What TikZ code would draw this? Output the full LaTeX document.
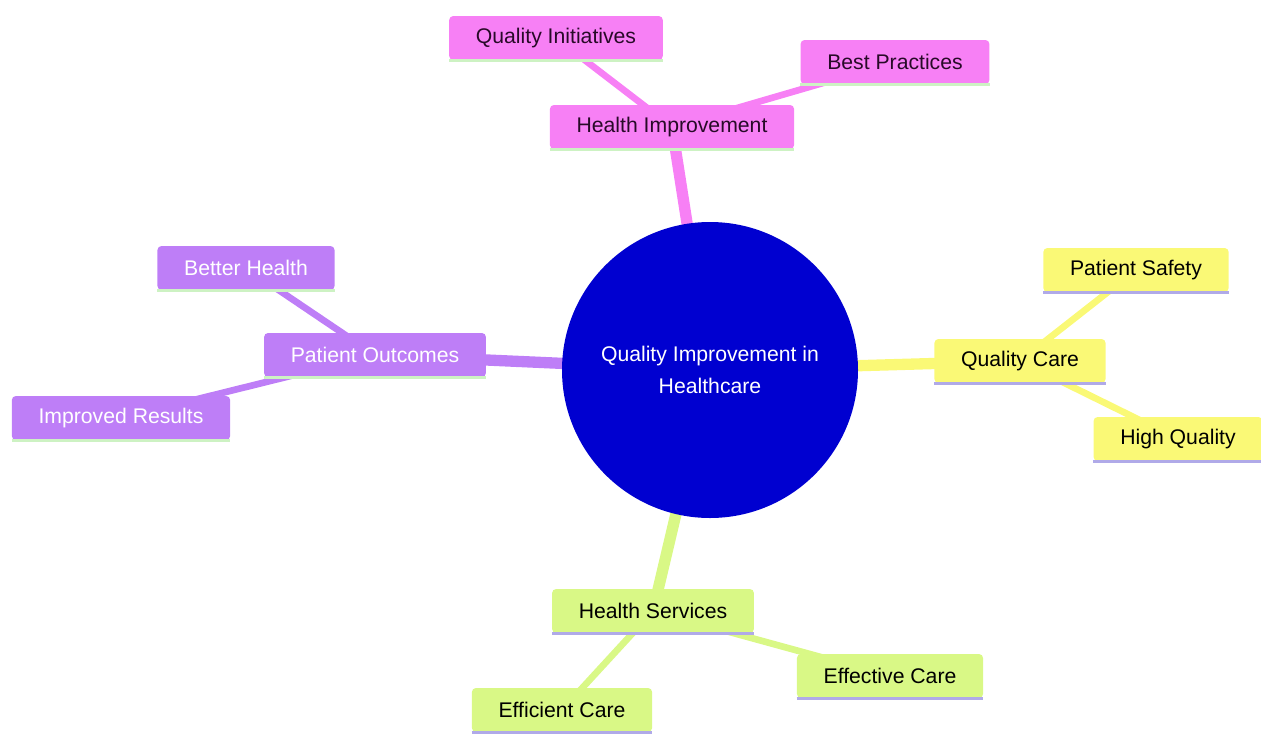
\documentclass[tikz,border=0pt]{standalone}
\usepackage{fontspec}
\setmainfont{Liberation Sans}
\usetikzlibrary{backgrounds}

\definecolor{rootblue}{RGB}{0,0,208}
\definecolor{pinksec}{RGB}{247,128,245}
\definecolor{purplesec}{RGB}{190,126,247}
\definecolor{yellowsec}{RGB}{250,249,118}
\definecolor{greensec}{RGB}{217,248,134}
\definecolor{greenline}{RGB}{205,242,195}
\definecolor{lavline}{RGB}{176,170,232}
\definecolor{darkpink}{RGB}{40,10,40}

\tikzset{
  mnode/.style={rectangle, rounded corners=3pt, minimum height=33pt, inner xsep=20pt, inner ysep=0pt, font=\fontsize{15.9}{19}\selectfont},
  rootnode/.style={circle, fill=rootblue, text=white, minimum size=222pt, inner sep=0pt, align=center, font=\fontsize{15.9}{24}\selectfont},
  edge/.style={line width=5pt},
  mainedge/.style={line width=8.5pt},
  uline/.style={line width=2.2pt}
}

\begin{document}
\begin{tikzpicture}[x=0.75pt,y=0.75pt,yscale=-1,xscale=1]
  \useasboundingbox (0,0) rectangle (1261,736);

  % root
  \node[rootnode] (root) at (710,370) {Quality Improvement in\\Healthcare};

  % pink branch
  \node[mnode, fill=pinksec, text=darkpink] (hi) at (672,127) {Health Improvement};
  \node[mnode, fill=pinksec, text=darkpink] (qi) at (556,38) {Quality Initiatives};
  \node[mnode, fill=pinksec, text=darkpink] (bp) at (895,62) {Best Practices};

  % yellow branch
  \node[mnode, fill=yellowsec] (qc) at (1020,361) {Quality Care};
  \node[mnode, fill=yellowsec] (ps) at (1136,270) {Patient Safety};
  \node[mnode, fill=yellowsec] (hq) at (1178,439) {High Quality};

  % purple branch
  \node[mnode, fill=purplesec, text=white] (po) at (375,355) {Patient Outcomes};
  \node[mnode, fill=purplesec, text=white] (bh) at (246,268) {Better Health};
  \node[mnode, fill=purplesec, text=white] (ir) at (121,418) {Improved Results};

  % green branch
  \node[mnode, fill=greensec] (hs) at (653,611) {Health Services};
  \node[mnode, fill=greensec] (ec) at (890,676) {Effective Care};
  \node[mnode, fill=greensec] (fc) at (562,710) {Efficient Care};

  % underlines
  \foreach \n/\c in {hi/greenline, qi/greenline, bp/greenline, po/greenline, bh/greenline, ir/greenline,
                     qc/lavline, ps/lavline, hq/lavline, hs/lavline, ec/lavline, fc/lavline}
    \draw[uline, \c] (\n.south west) -- (\n.south east);

  % edges
  \begin{pgfonlayer}{background}
    \draw[mainedge, pinksec] (root.center) -- (hi.center);
    \draw[edge, pinksec] (hi.center) -- (qi.center);
    \draw[edge, pinksec] (hi.center) -- (bp.center);
    \draw[mainedge, yellowsec] (root.center) -- (qc.center);
    \draw[edge, yellowsec] (qc.center) -- (ps.center);
    \draw[edge, yellowsec] (qc.center) -- (hq.center);
    \draw[mainedge, purplesec] (root.center) -- (po.center);
    \draw[edge, purplesec] (po.center) -- (bh.center);
    \draw[edge, purplesec] (po.center) -- (ir.center);
    \draw[mainedge, greensec] (root.center) -- (hs.center);
    \draw[edge, greensec] (hs.center) -- (ec.center);
    \draw[edge, greensec] (hs.center) -- (fc.center);
  \end{pgfonlayer}
\end{tikzpicture}
\end{document}
